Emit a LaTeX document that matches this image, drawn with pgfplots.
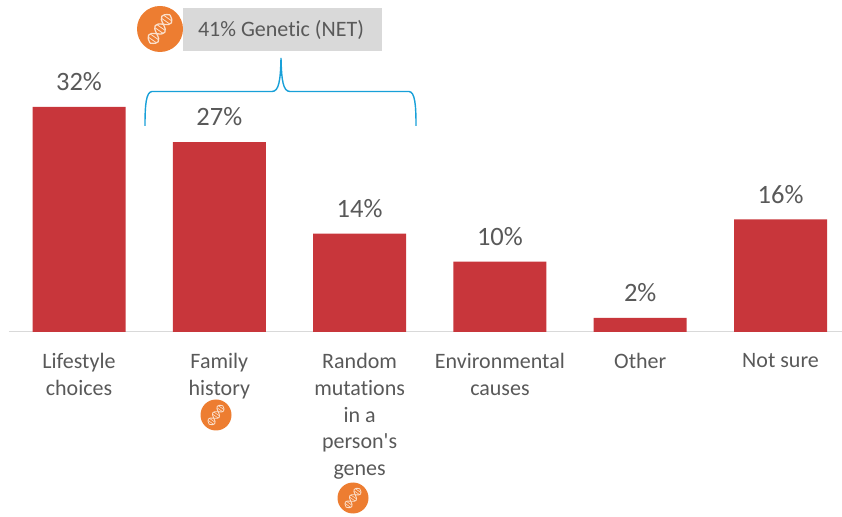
\documentclass[border=0pt]{standalone}
\usepackage{fontspec}
\setmainfont[Ligatures={TeXOff,CommonOff}]{Carlito}
\usepackage{pgfplots}
\pgfplotsset{compat=1.18}
\definecolor{barred}{HTML}{C8363B}
\definecolor{txt}{HTML}{595959}
\definecolor{base}{HTML}{D9D9D9}
\definecolor{brace}{HTML}{18A0D8}
\definecolor{badge}{HTML}{ED7D31}
\definecolor{helix}{HTML}{FBE0CC}
% orange badge with a small dna strand
\newcommand{\dnabadge}[3]{%
  \begin{scope}[shift={(#1,#2)},scale=#3]
    \fill[badge] (0,0) circle (1);
    \begin{scope}[rotate=55]
    \draw[helix,line width=#3*0.055pt] (-.75,0) .. controls (-.58,.34) and (-.42,.34) .. (-.25,0)
       .. controls (-.08,-.34) and (.08,-.34) .. (.25,0) .. controls (.42,.34) and (.58,.34) .. (.75,0);
    \draw[helix,line width=#3*0.055pt] (-.75,0) .. controls (-.58,-.34) and (-.42,-.34) .. (-.25,0)
       .. controls (-.08,.34) and (.08,.34) .. (.25,0) .. controls (.42,-.34) and (.58,-.34) .. (.75,0);
    \foreach \a in {-.58,-.42,-.08,.08,.42,.58}
      \draw[helix,line width=#3*0.035pt] (\a,-.2) -- (\a,.2);
    \end{scope}
  \end{scope}}
\begin{document}
\begin{tikzpicture}[x=1pt,y=1pt]
\path[use as bounding box] (0,0) rectangle (842,516);
\begin{axis}[
    at={(9pt,184pt)}, anchor=south west,
    scale only axis,
    width=833pt, height=332pt,
    xmin=-0.499, xmax=5.438,
    ymin=0, ymax=47.2,
    clip=false,
    ybar, bar width=93pt, bar shift=0pt,
    axis x line=bottom, axis y line=none,
    axis line style={base,line width=1pt,-},
    xtick={0,1,2,3,4,5},
    xticklabels={{Lifestyle\\choices},{Family\\history},{Random\\mutations\\in a\\person's\\genes},{Environmental\\causes},{Other},{Not sure}},
    xtick style={draw=none},
    xticklabel style={align=center,text=txt,anchor=north,yshift=-16pt,font=\fontsize{22}{26.6}\selectfont},
    /pgf/number format/assume math mode=true,
    nodes near coords={\pgfmathprintnumber{\pgfplotspointmeta}\%},
    every node near coord/.append style={text=txt,font=\fontsize{26.5}{28}\selectfont,yshift=12.5pt},
]
\addplot[fill=barred,draw=none] coordinates {(0,32) (1,27) (2,14) (3,10) (4,2) (5,16)};
\end{axis}
% annotations, picture pixels measured from the top left
\begin{scope}[shift={(0,516)},y=-1pt]
  \fill[base] (183,8) rectangle (382,51);
  \node[text=txt,font=\fontsize{22}{24}\selectfont] at (281,30) {41\% Genetic (NET)};
  \dnabadge{160}{29}{23}
  \draw[brace,line width=1.4pt] (145,126) .. controls (145,105) and (146,92) .. (152,91.5)
     -- (272,91.5) .. controls (279,91.5) and (280.5,80) .. (281,58)
     .. controls (281.5,80) and (283,91.5) .. (290,91.5)
     -- (409,91.5) .. controls (415,92) and (416,105) .. (416,126);
  \dnabadge{216}{415}{15.5}
  \dnabadge{353}{498}{15.5}
\end{scope}
\end{tikzpicture}
\end{document}
